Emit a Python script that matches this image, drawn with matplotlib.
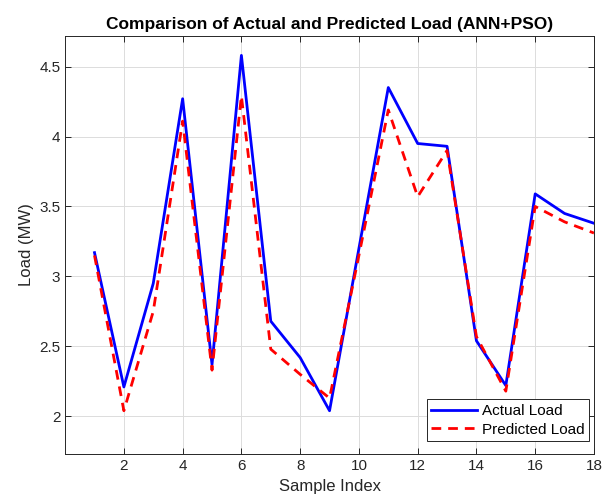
import numpy as np
import matplotlib
matplotlib.use('Agg')
import matplotlib.pyplot as plt

plt.rcParams['font.family'] = ['Liberation Sans', 'DejaVu Sans']

sample_index = list(range(1, 19))
actual_load = [3.17, 2.21, 2.95, 4.27, 2.37, 4.58, 2.68, 2.42, 2.04,
               3.20, 4.35, 3.95, 3.93, 2.54, 2.22, 3.59, 3.45, 3.38]
predicted_load = [3.15, 2.04, 2.75, 4.11, 2.33, 4.29, 2.48, 2.30, 2.13,
                  3.15, 4.19, 3.57, 3.90, 2.57, 2.18, 3.50, 3.39, 3.31]

fig = plt.figure(figsize=(6.03, 5.04), dpi=100)
ax = fig.add_axes([0.108, 0.099, 0.877, 0.830])

ax.plot(sample_index, actual_load, color='#0000ff', linewidth=2.0, label='Actual Load')
ax.plot(sample_index, predicted_load, color='#ff0000', linewidth=2.0,
        linestyle=(0, (3.5, 2.5)), label='Predicted Load')

ax.set_xlim(0, 18)
ax.set_ylim(1.73, 4.72)
ax.set_xticks(range(2, 19, 2))
ax.set_yticks([2, 2.5, 3, 3.5, 4, 4.5])
ax.set_yticklabels(['2', '2.5', '3', '3.5', '4', '4.5'])

ax.grid(True, color='#dcdcdc', linewidth=0.7)
ax.set_axisbelow(True)
ax.tick_params(direction='in', top=True, right=True, labelsize=11,
               colors='#262626', length=4, width=0.7)
for s in ax.spines.values():
    s.set_color('#262626')
    s.set_linewidth(0.7)

ax.set_title('Comparison of Actual and Predicted Load (ANN+PSO)',
             fontsize=12.5, fontweight='bold', pad=5)
ax.set_xlabel('Sample Index', fontsize=12, color='#262626')
ax.set_ylabel('Load (MW)', fontsize=12, color='#262626')

leg = ax.legend(loc='lower right', bbox_to_anchor=(0.9905, 0.031),
                borderaxespad=0, fontsize=11, fancybox=False,
                edgecolor='#262626', framealpha=1, handlelength=3.0,
                handletextpad=0.3, borderpad=0.3, labelspacing=0.3)
leg.get_frame().set_linewidth(0.7)

fig.savefig('out.png', dpi=100)
